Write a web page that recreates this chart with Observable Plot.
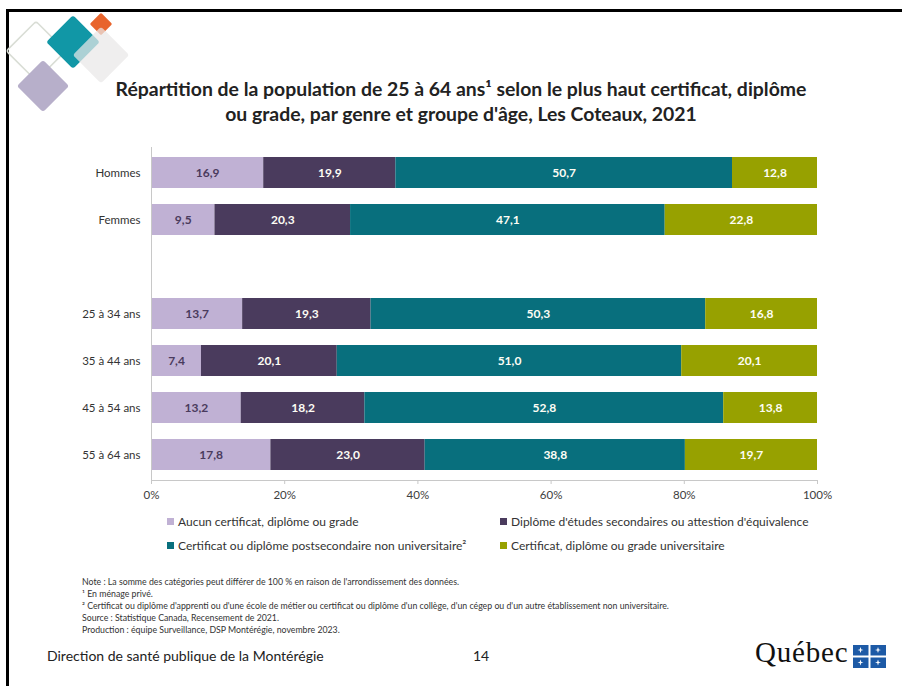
<!DOCTYPE html>
<html><head><meta charset="utf-8">
<script src="https://cdn.jsdelivr.net/npm/d3@7"></script>
<script src="https://cdn.jsdelivr.net/npm/@observablehq/plot@0.6"></script>
<style>
html,body{margin:0;padding:0;background:#fff;}
#page{position:relative;width:902px;height:686px;overflow:hidden;font-family:Lato,"Open Sans",sans-serif;color:#333;}
.abs{position:absolute;}
#title{left:0;width:922px;top:76px;text-align:center;font-weight:bold;font-size:19.4px;line-height:25px;color:#222;}
.leg{font-size:12px;color:#333;white-space:nowrap;}
.sw{display:inline-block;width:7px;height:7px;margin-right:4px;vertical-align:1px;}
#notes{left:82px;top:576px;font-size:8.75px;line-height:12px;color:#333;white-space:nowrap;}
</style></head>
<body><div id="page">
<div class="abs" style="left:6px;top:9px;width:900px;height:3px;background:#000"></div>
<div class="abs" style="left:6px;top:9px;width:2.5px;height:690px;background:#000"></div>
<svg class="abs" style="left:0;top:0" width="140" height="120">
  <g transform="translate(36,51) rotate(45)"><rect x="-21" y="-21" width="42" height="42" rx="3" fill="none" stroke="#d9ddd5" stroke-width="1.5"/></g>
  <g transform="translate(43,86) rotate(45)"><rect x="-18.5" y="-18.5" width="37" height="37" rx="3" fill="#b7afca"/></g>
  <g transform="translate(73,42) rotate(45)"><rect x="-19" y="-19" width="38" height="38" rx="3" fill="#1197a6"/></g>
  <g transform="translate(101,24) rotate(45)"><rect x="-8" y="-8" width="16" height="16" rx="1.5" fill="#e8642c"/></g>
  <g transform="translate(101,55) rotate(45)"><rect x="-20" y="-20" width="40" height="40" rx="3" fill="#e9e7e7" fill-opacity="0.72"/></g>
</svg>
<div id="title" class="abs">Répartition de la population de 25 à 64 ans¹ selon le plus haut certificat, diplôme<br>ou grade, par genre et groupe d'âge, Les Coteaux, 2021</div>
<div id="chart" class="abs" style="left:0;top:140px"></div>
<div id="legend"></div>
<div id="notes" class="abs"></div>
<div class="abs" style="left:47px;top:647px;font-size:14px;color:#222">Direction de santé publique de la Montérégie</div>
<div class="abs" style="left:473px;top:647px;font-size:14px;color:#222">14</div>
<div class="abs" style="left:755px;top:636px;font-family:'Liberation Serif','DejaVu Serif',serif;font-size:29px;color:#111;letter-spacing:0.8px">Québec</div>
<svg class="abs" style="left:853px;top:645px" width="36" height="26">
  <rect x="0" y="0" width="33" height="23" fill="#1d5aa6"/>
  <rect x="15.5" y="0" width="2" height="23" fill="#fff"/>
  <rect x="0" y="10.5" width="33" height="2" fill="#fff"/>
  <g fill="#fff">
    <path d="M7.5 2 L8.5 5 L7.5 8 L6.5 5Z M4.5 5 L7.5 4.3 L10.5 5 L7.5 5.7Z"/>
    <path d="M25 2 L26 5 L25 8 L24 5Z M22 5 L25 4.3 L28 5 L25 5.7Z"/>
    <path d="M7.5 14.5 L8.5 17.5 L7.5 20.5 L6.5 17.5Z M4.5 17.5 L7.5 16.8 L10.5 17.5 L7.5 18.2Z"/>
    <path d="M25 14.5 L26 17.5 L25 20.5 L24 17.5Z M22 17.5 L25 16.8 L28 17.5 L25 18.2Z"/>
  </g>
</svg>
</div>
<script>
const groups = ["Hommes", "Femmes", "", "25 à 34 ans", "35 à 44 ans", "45 à 54 ans", "55 à 64 ans"];
const dataGroups = ["Hommes", "Femmes", "25 à 34 ans", "35 à 44 ans", "45 à 54 ans", "55 à 64 ans"];
const categories = [
  "Aucun certificat, diplôme ou grade",
  "Diplôme d'études secondaires ou attestion d'équivalence",
  "Certificat ou diplôme postsecondaire non universitaire²",
  "Certificat, diplôme ou grade universitaire"
];
const colors = ["#c0b1d4", "#4a3b5d", "#086f7d", "#97a100"];
const aucun      = [16.9, 9.5, 13.7, 7.4, 13.2, 17.8];
const secondaire = [19.9, 20.3, 19.3, 20.1, 18.2, 23.0];
const postsec    = [50.7, 47.1, 50.3, 51.0, 52.8, 38.8];
const univ       = [12.8, 22.8, 16.8, 20.1, 13.8, 19.7];
const xTicks = [0, 0.2, 0.4, 0.6, 0.8, 1];
const notes = [
  "Note : La somme des catégories peut différer de 100 % en raison de l'arrondissement des données.",
  "¹ En ménage privé.",
  "² Certificat ou diplôme d'apprenti ou d'une école de métier ou certificat ou diplôme d'un collège, d'un cégep ou d'un autre établissement non universitaire.",
  "Source : Statistique Canada, Recensement de 2021.",
  "Production : équipe Surveillance, DSP Montérégie, novembre 2023."
];

const series = [aucun, secondaire, postsec, univ];
const data = [];
dataGroups.forEach((g, i) => categories.forEach((c, j) => data.push({group: g, cat: c, value: series[j][i]})));
const fmt = v => v.toFixed(1).replace(".", ",");

const stackOpts = (extra) => Plot.stackX({x: "value", y: "group", z: "cat", offset: "normalize", ...extra});

const chart = Plot.plot({
  width: 902, height: 370,
  marginLeft: 151, marginRight: 85, marginTop: 7, marginBottom: 30,
  style: {fontFamily: "Lato, sans-serif", fontSize: "11px", color: "#404040", background: "transparent", overflow: "visible"},
  x: {domain: [0, 1]},
  y: {domain: groups, paddingInner: 0.34, paddingOuter: 0.19},
  color: {domain: categories, range: colors},
  marks: [
    Plot.barX(data, stackOpts({fill: "cat"})),
    Plot.text(data, stackOpts({text: d => d.cat === categories[0] ? fmt(d.value) : null, fill: "#4a3b5d", fontWeight: "bold", fontSize: 12})),
    Plot.text(data, stackOpts({text: d => d.cat !== categories[0] ? fmt(d.value) : null, fill: "#fdfdf5", fontWeight: "bold", fontSize: 12})),
    Plot.ruleX([0], {stroke: "#c8c8c8"}),
    Plot.frame({anchor: "bottom", stroke: "#c8c8c8"}),
    Plot.axisX({ticks: xTicks, tickFormat: d3.format(".0%"), tickSize: 4, tickPadding: 6, stroke: "#c8c8c8", fill: "#404040", fontSize: 11.5, label: null}),
    Plot.axisY({tickSize: 0, tickPadding: 11, fill: "#333", fontSize: 11.5, label: null})
  ]
});
document.getElementById("chart").appendChild(chart);

const legendPos = [[167, 514], [500, 514], [167, 538], [500, 538]];
const leg = document.getElementById("legend");
categories.forEach((c, i) => {
  const d = document.createElement("div");
  d.className = "abs leg";
  d.style.left = legendPos[i][0] + "px";
  d.style.top = legendPos[i][1] + "px";
  d.innerHTML = `<span class="sw" style="background:${colors[i]}"></span>${c}`;
  leg.appendChild(d);
});
document.getElementById("notes").innerHTML = notes.join("<br>");
</script>
</body></html>
